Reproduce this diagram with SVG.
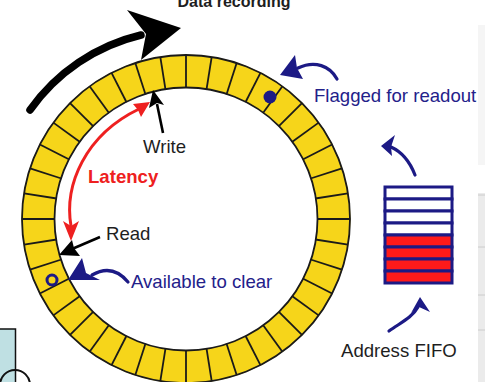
<svg xmlns="http://www.w3.org/2000/svg" xmlns:xlink="http://www.w3.org/1999/xlink" width="485" height="382" viewBox="0 0 485 382">
<style>
text{font-family:"Liberation Sans",Arial,sans-serif;font-size:18.6px}
.navy{fill:#23218a}
.dark{fill:#1e1e1e}
.seg{stroke:#1a1a1a;stroke-width:1.8}
.nline{fill:none;stroke:#1c1a85;stroke-width:3.2;stroke-linecap:round}
.nhead{fill:#1c1a85}
.fifo{stroke:#1c1a85;stroke-width:3}
</style>
<defs>
<line id="seg" class="seg" x1="186" y1="55" x2="186" y2="88"/>
</defs>
<rect width="485" height="382" fill="#ffffff"/>
<g id="side-panel">
<rect x="478" y="25" width="7" height="140" fill="#f5f5f5"/>
<rect x="478" y="193" width="7" height="189" fill="#ebebeb"/>
<g stroke="#cccccc" stroke-width="1">
<line x1="478" y1="195" x2="485" y2="195"/>
<line x1="478" y1="247" x2="485" y2="247"/>
<line x1="478" y1="295" x2="485" y2="295"/>
<line x1="478" y1="330" x2="485" y2="330"/>
</g>
</g>
<g id="corner">
<rect x="-2" y="329" width="17.5" height="60" fill="#bfe0e3" stroke="#111" stroke-width="1.5"/>
<circle cx="15" cy="385" r="15" fill="none" stroke="#111" stroke-width="2"/>
</g>
<g id="title"><text x="234" y="7" text-anchor="middle" font-weight="bold" style="font-size:16px" class="dark">Data recording</text></g>
<g id="ring">
<circle cx="186" cy="219" r="148" fill="none" stroke="#f6d51a" stroke-width="33"/>
<circle cx="186" cy="219" r="164" fill="none" stroke="#1a1a1a" stroke-width="1.8"/>
<circle cx="186" cy="219" r="131.5" fill="none" stroke="#1a1a1a" stroke-width="1.8"/>
<use xlink:href="#seg"/>
<use xlink:href="#seg" transform="rotate(9 186 219)"/>
<use xlink:href="#seg" transform="rotate(18 186 219)"/>
<use xlink:href="#seg" transform="rotate(27 186 219)"/>
<use xlink:href="#seg" transform="rotate(36 186 219)"/>
<use xlink:href="#seg" transform="rotate(45 186 219)"/>
<use xlink:href="#seg" transform="rotate(54 186 219)"/>
<use xlink:href="#seg" transform="rotate(63 186 219)"/>
<use xlink:href="#seg" transform="rotate(72 186 219)"/>
<use xlink:href="#seg" transform="rotate(81 186 219)"/>
<use xlink:href="#seg" transform="rotate(90 186 219)"/>
<use xlink:href="#seg" transform="rotate(99 186 219)"/>
<use xlink:href="#seg" transform="rotate(108 186 219)"/>
<use xlink:href="#seg" transform="rotate(117 186 219)"/>
<use xlink:href="#seg" transform="rotate(126 186 219)"/>
<use xlink:href="#seg" transform="rotate(135 186 219)"/>
<use xlink:href="#seg" transform="rotate(144 186 219)"/>
<use xlink:href="#seg" transform="rotate(153 186 219)"/>
<use xlink:href="#seg" transform="rotate(162 186 219)"/>
<use xlink:href="#seg" transform="rotate(171 186 219)"/>
<use xlink:href="#seg" transform="rotate(180 186 219)"/>
<use xlink:href="#seg" transform="rotate(189 186 219)"/>
<use xlink:href="#seg" transform="rotate(198 186 219)"/>
<use xlink:href="#seg" transform="rotate(207 186 219)"/>
<use xlink:href="#seg" transform="rotate(216 186 219)"/>
<use xlink:href="#seg" transform="rotate(225 186 219)"/>
<use xlink:href="#seg" transform="rotate(234 186 219)"/>
<use xlink:href="#seg" transform="rotate(243 186 219)"/>
<use xlink:href="#seg" transform="rotate(252 186 219)"/>
<use xlink:href="#seg" transform="rotate(261 186 219)"/>
<use xlink:href="#seg" transform="rotate(270 186 219)"/>
<use xlink:href="#seg" transform="rotate(279 186 219)"/>
<use xlink:href="#seg" transform="rotate(288 186 219)"/>
<use xlink:href="#seg" transform="rotate(297 186 219)"/>
<use xlink:href="#seg" transform="rotate(306 186 219)"/>
<use xlink:href="#seg" transform="rotate(315 186 219)"/>
<use xlink:href="#seg" transform="rotate(324 186 219)"/>
<use xlink:href="#seg" transform="rotate(333 186 219)"/>
<use xlink:href="#seg" transform="rotate(342 186 219)"/>
<use xlink:href="#seg" transform="rotate(351 186 219)"/>
<circle id="flag-dot" cx="270" cy="97" r="6.5" fill="#1c1a85"/>
<circle id="clear-dot" cx="52" cy="280" r="5" fill="none" stroke="#1c1a85" stroke-width="3"/>
</g>
<g id="fifo">
<rect class="fifo" x="385" y="187" width="67" height="12" fill="#ffffff"/>
<rect class="fifo" x="385" y="199" width="67" height="12" fill="#ffffff"/>
<rect class="fifo" x="385" y="211" width="67" height="12" fill="#ffffff"/>
<rect class="fifo" x="385" y="223" width="67" height="12" fill="#ffffff"/>
<rect class="fifo" x="385" y="235" width="67" height="12" fill="#ff1a1a"/>
<rect class="fifo" x="385" y="247" width="67" height="12" fill="#ff1a1a"/>
<rect class="fifo" x="385" y="259" width="67" height="12" fill="#ff1a1a"/>
<rect class="fifo" x="385" y="271" width="67" height="12" fill="#ff1a1a"/>
</g>
<g id="labels">
<text x="314" y="102" class="navy">Flagged for readout</text>
<text x="143" y="153" class="dark">Write</text>
<text x="88" y="183" font-weight="bold" fill="#ee2020">Latency</text>
<text x="106" y="240" class="dark">Read</text>
<text x="131" y="288" class="navy">Available to clear</text>
<text x="341" y="357" class="dark">Address FIFO</text>
</g>
<g id="connectors">
<path d="M30 110 A190 190 0 0 1 141 35" fill="none" stroke="#000" stroke-width="7.5" stroke-linecap="round"/>
<polygon points="181,28 127,10 146,34 141,60" fill="#000"/>
<line x1="163" y1="133" x2="157" y2="104" stroke="#000" stroke-width="2.6"/>
<polygon points="153,90 164,105 157,103 149,108" fill="#000"/>
<path d="M71 226 C64 185 85 135 139 109" fill="none" stroke="#ee2020" stroke-width="3"/>
<polygon points="150,102 141,117 138,110 133,104" fill="#ee2020"/>
<polygon points="71,241 63,221 71,226 79,221" fill="#ee2020"/>
<line x1="100" y1="237" x2="72" y2="249" stroke="#000" stroke-width="2.6"/>
<polygon points="59,255 72,240 74,248 80,256" fill="#000"/>
<path class="nline" d="M128 282 C118 270 106 267 92 275"/>
<polygon class="nhead" points="68,280 82,258 86,273 100,280"/>
<path class="nline" d="M337 79 C330 66 315 60 298 68"/>
<polygon class="nhead" points="280,75 295,55 297,68 303,79"/>
<path class="nline" d="M415 175 C410 162 402 152 391 147"/>
<polygon class="nhead" points="381,146 395,135 391,147 392,156"/>
<path class="nline" d="M389 331 C400 323 412 318 418 307"/>
<polygon class="nhead" points="420,297 430,312 419,307 411,313"/>
</g>
</svg>
